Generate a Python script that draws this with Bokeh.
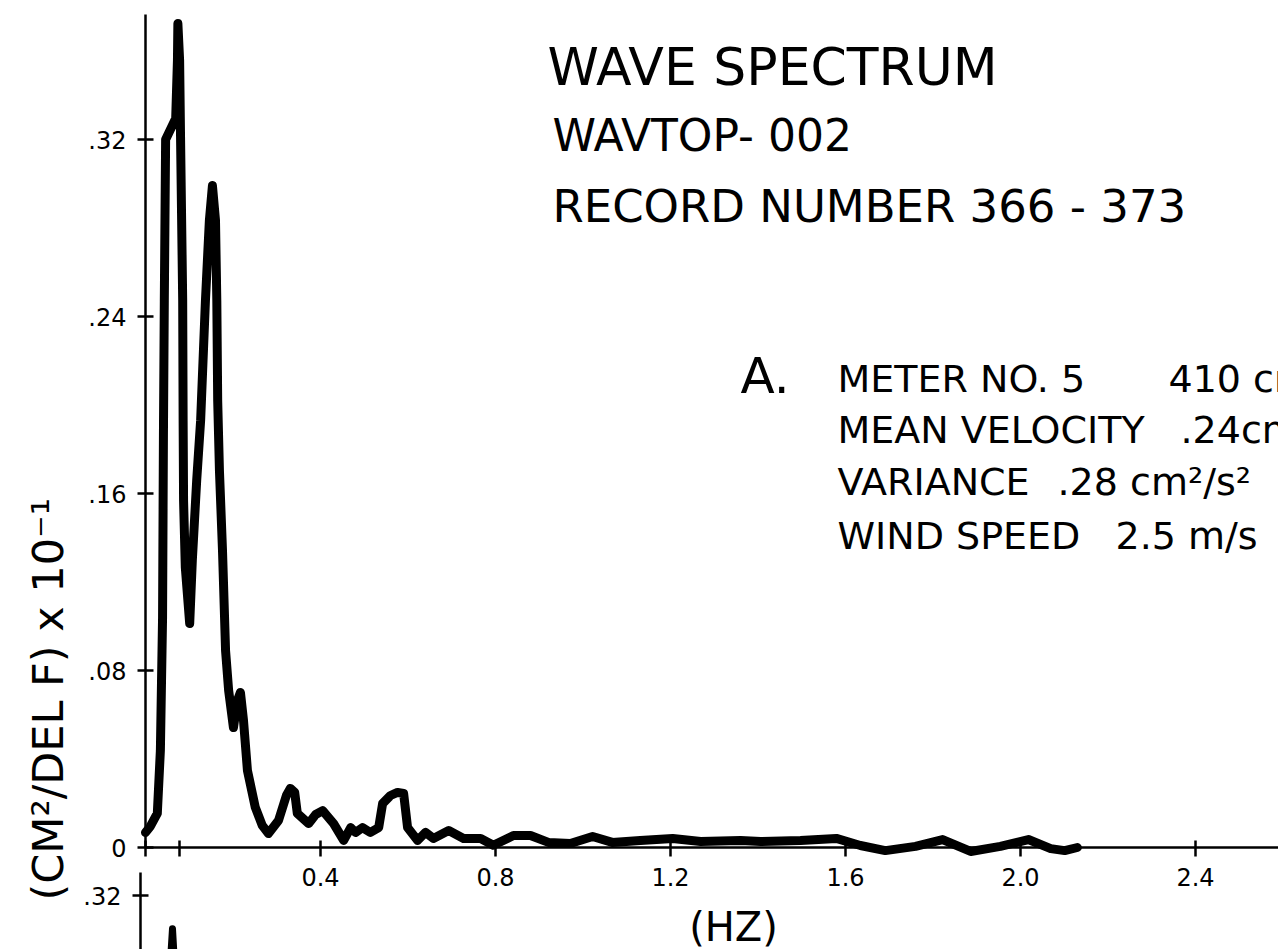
from bokeh.plotting import figure
from bokeh.models import Range1d, LinearAxis, FixedTicker, Label, ColumnDataSource
from bokeh.embed import file_html
from bokeh.resources import INLINE
import math

# ---------------- data ----------------
freq_hz = [0.000, 0.011, 0.027, 0.034, 0.039, 0.041, 0.043, 0.046, 0.069, 0.073,
           0.074, 0.078, 0.080, 0.085, 0.086, 0.087, 0.091, 0.101, 0.107, 0.117,
           0.126, 0.137, 0.146, 0.153, 0.160, 0.163, 0.165, 0.169, 0.176, 0.183,
           0.190, 0.201, 0.210, 0.217, 0.224, 0.233, 0.251, 0.267, 0.281, 0.304,
           0.322, 0.331, 0.341, 0.347, 0.373, 0.389, 0.405, 0.430, 0.453, 0.469,
           0.480, 0.496, 0.514, 0.533, 0.542, 0.560, 0.576, 0.590, 0.599, 0.622,
           0.640, 0.658, 0.693, 0.727, 0.766, 0.795, 0.841, 0.880, 0.921, 0.971,
           1.022, 1.067, 1.131, 1.205, 1.269, 1.360, 1.406, 1.497, 1.579, 1.634,
           1.691, 1.760, 1.822, 1.886, 1.954, 2.018, 2.069, 2.101, 2.130]
spectrum = [0.0068, 0.0095, 0.0154, 0.0438, 0.1040, 0.1871, 0.2472, 0.3200, 0.3295, 0.3557,
            0.3724, 0.3557, 0.3227, 0.2472, 0.1930, 0.1568, 0.1266, 0.1012, 0.1297, 0.1659,
            0.1930, 0.2472, 0.2834, 0.2992, 0.2834, 0.2472, 0.2020, 0.1704, 0.1342, 0.0890,
            0.0710, 0.0542, 0.0664, 0.0701, 0.0574, 0.0348, 0.0181, 0.0099, 0.0063, 0.0122,
            0.0235, 0.0267, 0.0249, 0.0154, 0.0108, 0.0149, 0.0167, 0.0108, 0.0032, 0.0090,
            0.0068, 0.0090, 0.0068, 0.0090, 0.0199, 0.0235, 0.0249, 0.0244, 0.0090, 0.0032,
            0.0068, 0.0041, 0.0077, 0.0041, 0.0041, 0.0010, 0.0054, 0.0054, 0.0023, 0.0018,
            0.0050, 0.0023, 0.0032, 0.0041, 0.0027, 0.0032, 0.0027, 0.0032, 0.0041, 0.0009,
            -0.0014, 0.0005, 0.0036, -0.0018, 0.0005, 0.0036, -0.0005, -0.0014, 0.0000]

# start of the next (cut-off) spectrum below
lower_freq_hz = [0.057, 0.0617, 0.066]
lower_spectrum = [0.290, 0.3050, 0.290]

y_ticks = [0, 0.08, 0.16, 0.24, 0.32]
y_tick_labels = ["0", ".08", ".16", ".24", ".32"]
x_ticks = [0.4, 0.8, 1.2, 1.6, 2.0, 2.4]
x_tick_labels = ["0.4", "0.8", "1.2", "1.6", "2.0", "2.4"]
x_minor_marks = [0.0, 0.078]
lower_y_ticks = [0.32]
lower_y_tick_labels = [".32"]

# ---------------- layout ----------------
W, H = 1278, 949
X0_PX, X_SCALE = 145, 437.5  # px of f=0, px per Hz
Y0_PX, Y_SCALE = 847, 2212.5 # px of value 0, px per unit
LOWER_REF_PX = 895           # px of lower panel's .32 tick
MID = 0.346                  # baseline -> middle of the font box (em)


def dx(px):
    return (px - X0_PX) / X_SCALE


def dy(py):
    return (Y0_PX - py) / Y_SCALE


def dy_lower(py):
    return 0.32 + (LOWER_REF_PX - py) / Y_SCALE


FONT = "DejaVu Sans"

p = figure(width=W, height=H, output_backend="svg", toolbar_location=None,
           x_range=Range1d(dx(0), dx(W)),
           y_range=Range1d(dy(H), dy(0)),
           x_axis_type=None, y_axis_type=None)
p.extra_y_ranges = {"lower": Range1d(dy_lower(H), dy_lower(0))}
p.min_border = 0
p.min_border_left = 0
p.min_border_right = 0
p.min_border_top = 0
p.min_border_bottom = 0
p.outline_line_color = None
p.xgrid.visible = False
p.ygrid.visible = False
p.background_fill_color = "white"
p.border_fill_color = "white"

axis_style = dict(
    axis_line_width=2.5, axis_line_color="black",
    major_tick_line_width=2.5, major_tick_line_color="black",
    major_label_text_font=FONT, major_label_text_color="black",
    major_label_text_font_size="24px",
)

# upper y axis
yax = LinearAxis(ticker=FixedTicker(ticks=y_ticks), fixed_location=0,
                 bounds=(0, dy(14)),
                 major_label_overrides=dict(zip(y_ticks, y_tick_labels)),
                 major_tick_in=8, major_tick_out=8, major_label_standoff=11,
                 minor_tick_line_color=None, **axis_style)
p.add_layout(yax, "left")

# lower (next panel) y axis
yax2 = LinearAxis(y_range_name="lower", ticker=FixedTicker(ticks=lower_y_ticks),
                  fixed_location=dx(140),
                  bounds=(dy_lower(H), dy_lower(872)),
                  major_label_overrides=dict(zip(lower_y_ticks, lower_y_tick_labels)),
                  major_tick_in=8, major_tick_out=8, major_label_standoff=11,
                  minor_tick_line_color=None, **axis_style)
p.add_layout(yax2, "left")

# x axis
xax = LinearAxis(ticker=FixedTicker(ticks=x_ticks, minor_ticks=x_minor_marks),
                 fixed_location=0, bounds=(0, dx(W)),
                 major_label_overrides=dict(zip(x_ticks, x_tick_labels)),
                 major_tick_in=7, major_tick_out=9, major_label_standoff=11,
                 minor_tick_in=7, minor_tick_out=9, minor_tick_line_width=2.5,
                 minor_tick_line_color="black", **axis_style)
p.add_layout(xax, "below")

# spectrum curves
src = ColumnDataSource(dict(f=freq_hz, v=spectrum))
p.line("f", "v", source=src, line_width=9, line_color="black",
       line_join="round", line_cap="round")
src2 = ColumnDataSource(dict(f=lower_freq_hz, v=lower_spectrum))
p.line("f", "v", source=src2, y_range_name="lower", line_width=7,
       line_color="black", line_join="round", line_cap="round")


def add_text(txt, px, py, size, align="left"):
    """px, py: left (or centre) x and baseline y, in picture pixels."""
    p.add_layout(Label(x=dx(px), y=dy(py - MID * size), text=txt, text_font=FONT,
                       text_font_size=f"{size}px", text_color="black",
                       text_align=align, text_baseline="middle"))


def add_vtext(txt, px, py, size):
    """Vertical text reading upward; px = baseline x, py = start y."""
    p.add_layout(Label(x=dx(px - MID * size), y=dy(py), text=txt, text_font=FONT,
                       text_font_size=f"{size}px", text_color="black",
                       text_align="left", text_baseline="middle",
                       angle=math.pi / 2))


add_text("WAVE SPECTRUM", 547, 84, 52)
add_text("WAVTOP- 002", 552, 150, 44)
add_text("RECORD NUMBER 366 - 373", 552, 222, 45)
add_text("A.", 740, 393, 50)
add_text("METER NO. 5", 837, 392, 38)
add_text("410 cm", 1168, 392, 38)
add_text("MEAN VELOCITY", 837, 443, 38)
add_text(".24cm/s", 1180, 443, 38)
add_text("VARIANCE", 837, 495, 38)
add_text(".28 cm²/s²", 1057, 495, 38)
add_text("WIND SPEED", 837, 549, 38)
add_text("2.5 m/s", 1115, 549, 38)
add_text("(HZ)", 733, 940, 40, align="center")
add_vtext("(CM²/DEL F) x 10⁻¹", 62, 900, 43)

open("out.html", "w").write(file_html(p, INLINE))
